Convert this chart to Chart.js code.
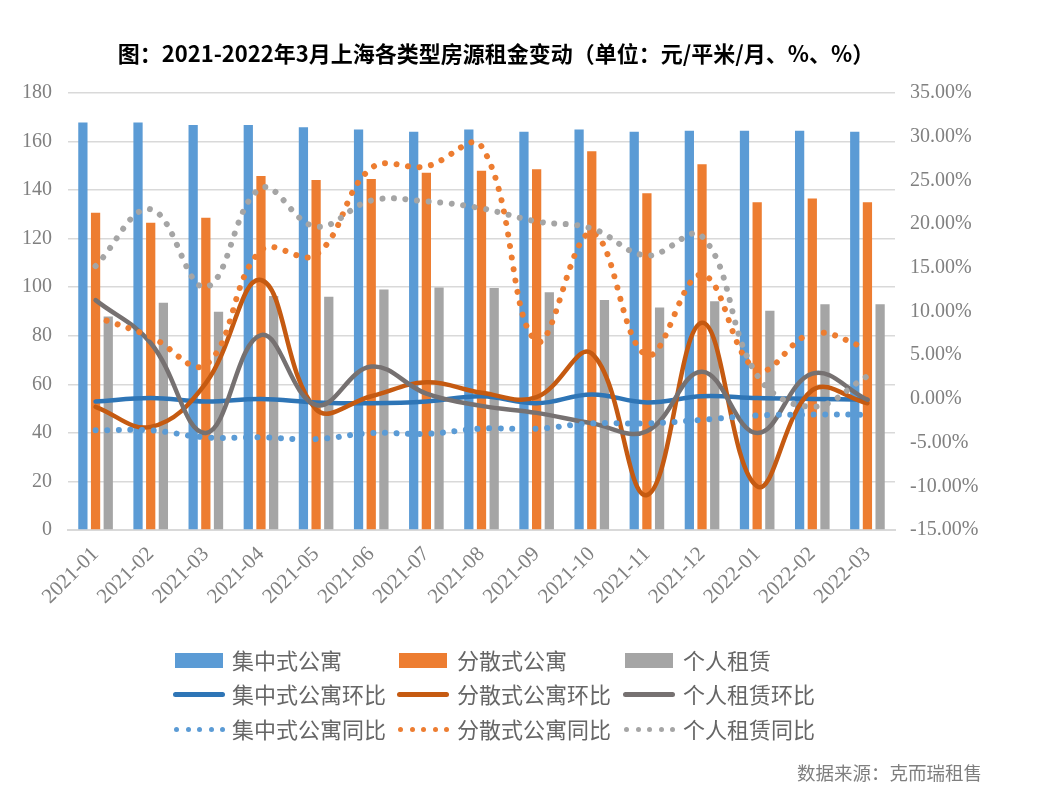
<!DOCTYPE html>
<html>
<head>
<meta charset="utf-8">
<script src="https://cdn.jsdelivr.net/npm/chart.js@4.4.1/dist/chart.umd.min.js"></script>
<style>
  body { margin: 0; background: #fff; }
  #wrap { position: relative; width: 1040px; height: 804px; overflow: hidden; background: #fff; }
  #chart { position: absolute; left: 0; top: 0; }
  #title { position: absolute; left: 0; width: 992px; top: 36px; text-align: center;
           font: bold 22px "Noto Sans CJK SC", sans-serif; color: #000; white-space: nowrap; }
  .lg { position: absolute; font: 22px "Noto Sans CJK SC", sans-serif; color: #666; white-space: nowrap; line-height: 22px; }
  .mk { position: absolute; }
  .dot { position: absolute; width: 5px; height: 5px; border-radius: 50%; }
  #src { position: absolute; left: 797px; top: 759px; font: 18.5px "Noto Sans CJK SC", sans-serif; color: #7f7f7f; white-space: nowrap; }
</style>
</head>
<body>
<div id="wrap">
  <canvas id="chart" width="1040" height="804"></canvas>
  <div id="title">图：2021-2022年3月上海各类型房源租金变动（单位：元/平米/月、%、%）</div>
  <div id="legend"></div>
  <div id="src">数据来源：克而瑞租售</div>
</div>
<script>
// ---- data ----
const months = ["2021-01","2021-02","2021-03","2021-04","2021-05","2021-06","2021-07","2021-08","2021-09","2021-10","2021-11","2021-12","2022-01","2022-02","2022-03"];
const jizhongRent = [167.8,167.8,166.8,166.8,165.9,165,164,165,164,165,164,164.4,164.4,164.4,164];
const fensanRent  = [130.7,126.6,128.6,145.8,144.2,144.6,147.2,148,148.6,156,138.7,150.7,135,136.5,135];
const gerenRent   = [87.9,93.6,89.9,96.4,96.1,99.1,99.9,99.7,97.9,94.7,91.6,94.2,90.3,93,93];
const jizhongMoM  = [-0.3,0.1,-0.3,0,-0.4,-0.5,-0.3,0.3,-0.5,0.5,-0.4,0.3,0.1,0,-0.1];
const fensanMoM   = [-0.9,-3.2,1.8,13.6,-1.2,0.3,1.9,0.7,0.2,5.2,-11,8.7,-10,1.0,-0.5];
const gerenMoM    = [11.3,6.4,-3.9,7.3,-0.7,3.7,0.6,-0.8,-1.6,-2.8,-3.7,3.1,-3.9,2.9,-0.1];
const jizhongYoY  = [-3.6,-3.6,-4.4,-4.4,-4.6,-3.9,-4.0,-3.4,-3.4,-2.8,-2.8,-2.4,-1.9,-1.8,-1.8];
const fensanYoY   = [9.4,7.1,3.9,17.0,16.5,26.4,26.6,28.9,6.6,19.0,5.0,14.2,3.3,7.5,5.8];
const gerenYoY    = [15.2,21.7,12.8,24.1,19.7,22.7,22.6,21.8,20.3,19.5,16.4,18.6,2.7,-0.9,2.6];
const leftTicks = [0,20,40,60,80,100,120,140,160,180];
const rightTicks = [-15,-10,-5,0,5,10,15,20,25,30,35];

const seriesNames = ["集中式公寓","分散式公寓","个人租赁","集中式公寓环比","分散式公寓环比","个人租赁环比","集中式公寓同比","分散式公寓同比","个人租赁同比"];
const C = {
  barBlue: "#5B9BD5", barOrange: "#ED7D31", barGray: "#A5A5A5",
  lineBlue: "#2E75B6", lineOrange: "#C55A11", lineGray: "#767171",
  dotBlue: "#5B9BD5", dotOrange: "#ED7D31", dotGray: "#A5A5A5"
};

function bar(label, data, color) {
  return { type: "bar", label, data, backgroundColor: color, yAxisID: "y", order: 10,
           barPercentage: 0.73, categoryPercentage: 0.69 };
}
function solid(label, data, color, order) {
  return { type: "line", label, data, borderColor: color, backgroundColor: color, yAxisID: "y1",
           borderWidth: 4.5, pointRadius: 0, tension: 0.4, fill: false, order,
           borderCapStyle: "round", borderJoinStyle: "round" };
}
function dotted(label, data, color, order) {
  return { type: "line", label, data, borderColor: color, backgroundColor: color, yAxisID: "y1",
           borderWidth: 6, pointRadius: 0, tension: 0.4, fill: false, order,
           borderDash: [0.01, 11.6], borderCapStyle: "round" };
}

const tickFont = { family: "Liberation Serif", size: 20 };
const tickColor = "#808080";

new Chart(document.getElementById("chart"), {
  data: {
    labels: months,
    datasets: [
      bar(seriesNames[0], jizhongRent, C.barBlue),
      bar(seriesNames[1], fensanRent, C.barOrange),
      bar(seriesNames[2], gerenRent, C.barGray),
      solid(seriesNames[3], jizhongMoM, C.lineBlue, 6),
      solid(seriesNames[4], fensanMoM, C.lineOrange, 5),
      solid(seriesNames[5], gerenMoM, C.lineGray, 4),
      dotted(seriesNames[6], jizhongYoY, C.dotBlue, 3),
      dotted(seriesNames[7], fensanYoY, C.dotOrange, 2),
      dotted(seriesNames[8], gerenYoY, C.dotGray, 1)
    ]
  },
  options: {
    responsive: false,
    animation: false,
    devicePixelRatio: 1,
    layout: { padding: { top: 93, left: 0, right: 0, bottom: 0 } },
    plugins: { legend: { display: false }, tooltip: { enabled: false }, title: { display: false } },
    scales: {
      x: {
        offset: true,
        grid: { display: false, drawTicks: false },
        border: { display: true, color: "#d9d9d9", width: 2 },
        ticks: { minRotation: 45, maxRotation: 45, autoSkip: false, font: { family: "Liberation Serif", size: 21 }, color: tickColor, padding: 12 },
        afterFit: s => { s.height = 274; }
      },
      y: {
        position: "left", min: 0, max: 180,
        afterBuildTicks: s => { s.ticks = leftTicks.map(v => ({ value: v })); },
        grid: { color: "#d9d9d9", lineWidth: 1.5, drawTicks: false },
        border: { display: false },
        ticks: { font: tickFont, color: tickColor, padding: 16 },
        afterFit: s => { s.width = 68; }
      },
      y1: {
        position: "right", min: -15, max: 35,
        afterBuildTicks: s => { s.ticks = rightTicks.map(v => ({ value: v })); },
        grid: { display: false, drawTicks: false },
        border: { display: false },
        ticks: { font: tickFont, color: tickColor, padding: 15, callback: v => Number(v).toFixed(2) + "%" },
        afterFit: s => { s.width = 145; }
      }
    }
  }
});

// ---- legend (HTML) ----
const legend = document.getElementById("legend");
const colX = [173, 397, 623];
const textX = [232, 457, 683];
const rowY = [660, 694, 729];
const markColors = [
  [C.barBlue, C.barOrange, C.barGray],
  [C.lineBlue, C.lineOrange, C.lineGray],
  [C.dotBlue, C.dotOrange, C.dotGray]
];
for (let r = 0; r < 3; r++) {
  for (let c = 0; c < 3; c++) {
    const name = seriesNames[r * 3 + c];
    const color = markColors[r][c];
    if (r === 0) {
      const m = document.createElement("div");
      m.className = "mk";
      Object.assign(m.style, { left: colX[c] + 2 + "px", top: rowY[r] - 7 + "px", width: "48px", height: "15px", background: color });
      legend.appendChild(m);
    } else if (r === 1) {
      const m = document.createElement("div");
      m.className = "mk";
      Object.assign(m.style, { left: colX[c] + "px", top: rowY[r] - 2.5 + "px", width: "52px", height: "5px", background: color, borderRadius: "3px" });
      legend.appendChild(m);
    } else {
      for (let k = 0; k < 5; k++) {
        const d = document.createElement("div");
        d.className = "dot";
        Object.assign(d.style, { left: colX[c] + 1 + k * 11.5 + "px", top: rowY[r] - 2.5 + "px", background: color });
        legend.appendChild(d);
      }
    }
    const t = document.createElement("div");
    t.className = "lg";
    t.textContent = name;
    Object.assign(t.style, { left: textX[c] + "px", top: rowY[r] - 12 + "px" });
    legend.appendChild(t);
  }
}
</script>
</body>
</html>
